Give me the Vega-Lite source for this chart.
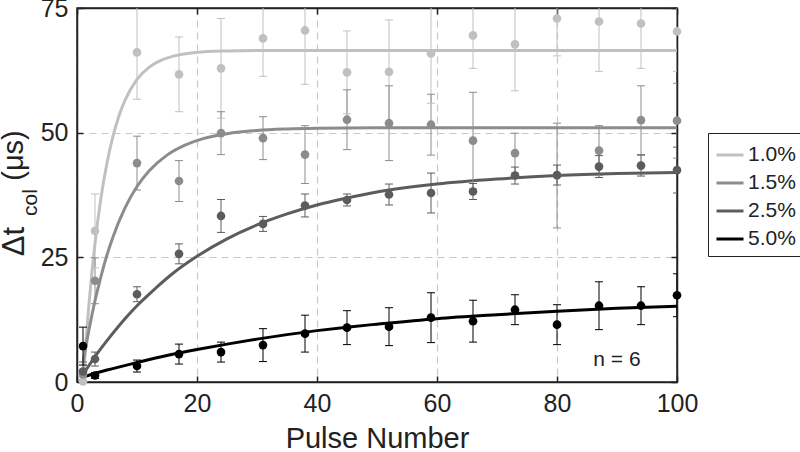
{
  "$schema": "https://vega.github.io/schema/vega-lite/v6.json",
  "width": 600,
  "height": 374,
  "autosize": {"type": "none"},
  "padding": {"left": 77, "top": 8, "right": 123, "bottom": 70},
  "background": "white",
  "config": {
    "view": {"stroke": "#222222", "strokeWidth": 1.5},
    "font": "Liberation Sans",
    "axis": {
      "domainColor": "#222222",
      "domainWidth": 1.5,
      "tickColor": "#222222",
      "tickWidth": 1.5,
      "tickSize": -6,
      "labelFont": "Liberation Sans",
      "labelFontSize": 25,
      "labelColor": "#222222",
      "labelFlush": false,
      "titleFont": "Liberation Sans",
      "titleFontWeight": "normal",
      "titleColor": "#222222",
      "gridColor": "#c8c8c8",
      "gridDash": [7, 5],
      "gridWidth": 1.2
    }
  },
  "datasets": {
    "pts": [
      {"s": "1.0%", "x": 1, "y": 0.1, "lo": 0, "hi": 1.0},
      {"s": "1.0%", "x": 3, "y": 30.3, "lo": 22.9, "hi": 37.7},
      {"s": "1.0%", "x": 10, "y": 66.1, "lo": 56.7, "hi": 75.5},
      {"s": "1.0%", "x": 17, "y": 61.7, "lo": 54.2, "hi": 69.2},
      {"s": "1.0%", "x": 24, "y": 62.9, "lo": 52.9, "hi": 72.9},
      {"s": "1.0%", "x": 31, "y": 68.9, "lo": 61.3, "hi": 76.5},
      {"s": "1.0%", "x": 38, "y": 70.5, "lo": 59.7, "hi": 81.3},
      {"s": "1.0%", "x": 45, "y": 62.1, "lo": 53.8, "hi": 70.4},
      {"s": "1.0%", "x": 52, "y": 62.2, "lo": 51.8, "hi": 72.6},
      {"s": "1.0%", "x": 59, "y": 65.9, "lo": 55.9, "hi": 75.9},
      {"s": "1.0%", "x": 66, "y": 69.5, "lo": 62.9, "hi": 76.1},
      {"s": "1.0%", "x": 73, "y": 67.7, "lo": 58.4, "hi": 77.0},
      {"s": "1.0%", "x": 80, "y": 72.9, "lo": 65.4, "hi": 80.4},
      {"s": "1.0%", "x": 87, "y": 72.3, "lo": 62.3, "hi": 82.3},
      {"s": "1.0%", "x": 94, "y": 71.9, "lo": 62.9, "hi": 80.9},
      {"s": "1.0%", "x": 100, "y": 70.3, "lo": 62.3, "hi": 78.3},
      {"s": "1.5%", "x": 1, "y": 1.5, "lo": 0.5, "hi": 2.5},
      {"s": "1.5%", "x": 3, "y": 20.3, "lo": 15.7, "hi": 24.9},
      {"s": "1.5%", "x": 10, "y": 43.9, "lo": 38.5, "hi": 49.3},
      {"s": "1.5%", "x": 17, "y": 40.3, "lo": 36.2, "hi": 44.4},
      {"s": "1.5%", "x": 24, "y": 49.9, "lo": 45.6, "hi": 54.2},
      {"s": "1.5%", "x": 31, "y": 48.9, "lo": 44.6, "hi": 53.2},
      {"s": "1.5%", "x": 38, "y": 45.6, "lo": 39.8, "hi": 51.4},
      {"s": "1.5%", "x": 45, "y": 52.6, "lo": 46.6, "hi": 58.6},
      {"s": "1.5%", "x": 52, "y": 51.9, "lo": 44.4, "hi": 59.4},
      {"s": "1.5%", "x": 59, "y": 51.6, "lo": 45.5, "hi": 57.7},
      {"s": "1.5%", "x": 66, "y": 48.4, "lo": 38.7, "hi": 58.1},
      {"s": "1.5%", "x": 73, "y": 45.9, "lo": 41.9, "hi": 49.9},
      {"s": "1.5%", "x": 80, "y": 41.4, "lo": 30.9, "hi": 51.9},
      {"s": "1.5%", "x": 87, "y": 46.4, "lo": 41.4, "hi": 51.4},
      {"s": "1.5%", "x": 94, "y": 52.5, "lo": 45.6, "hi": 59.4},
      {"s": "1.5%", "x": 100, "y": 52.4, "lo": 44.9, "hi": 59.9},
      {"s": "2.5%", "x": 1, "y": 2.1, "lo": 0.2, "hi": 4.0},
      {"s": "2.5%", "x": 3, "y": 4.6, "lo": 3.2, "hi": 6.0},
      {"s": "2.5%", "x": 10, "y": 17.6, "lo": 16.1, "hi": 19.1},
      {"s": "2.5%", "x": 17, "y": 25.7, "lo": 23.7, "hi": 27.7},
      {"s": "2.5%", "x": 24, "y": 33.3, "lo": 30.0, "hi": 36.6},
      {"s": "2.5%", "x": 31, "y": 31.7, "lo": 30.2, "hi": 33.2},
      {"s": "2.5%", "x": 38, "y": 35.4, "lo": 33.1, "hi": 37.7},
      {"s": "2.5%", "x": 45, "y": 36.5, "lo": 35.3, "hi": 37.7},
      {"s": "2.5%", "x": 52, "y": 37.6, "lo": 35.5, "hi": 39.7},
      {"s": "2.5%", "x": 59, "y": 37.9, "lo": 33.9, "hi": 41.9},
      {"s": "2.5%", "x": 66, "y": 38.2, "lo": 36.6, "hi": 39.8},
      {"s": "2.5%", "x": 73, "y": 41.4, "lo": 39.7, "hi": 43.1},
      {"s": "2.5%", "x": 80, "y": 41.5, "lo": 39.5, "hi": 43.5},
      {"s": "2.5%", "x": 87, "y": 43.2, "lo": 41.0, "hi": 45.4},
      {"s": "2.5%", "x": 94, "y": 43.4, "lo": 41.3, "hi": 45.5},
      {"s": "2.5%", "x": 100, "y": 42.5, "lo": 37.9, "hi": 47.1},
      {"s": "5.0%", "x": 1, "y": 7.2, "lo": 3.4, "hi": 11.0},
      {"s": "5.0%", "x": 3, "y": 1.3, "lo": 0.7, "hi": 1.9},
      {"s": "5.0%", "x": 10, "y": 3.2, "lo": 2.0, "hi": 4.4},
      {"s": "5.0%", "x": 17, "y": 5.6, "lo": 3.6, "hi": 7.6},
      {"s": "5.0%", "x": 24, "y": 6.0, "lo": 4.0, "hi": 8.0},
      {"s": "5.0%", "x": 31, "y": 7.4, "lo": 4.1, "hi": 10.7},
      {"s": "5.0%", "x": 38, "y": 9.7, "lo": 6.0, "hi": 13.4},
      {"s": "5.0%", "x": 45, "y": 10.9, "lo": 7.5, "hi": 14.3},
      {"s": "5.0%", "x": 52, "y": 11.1, "lo": 7.3, "hi": 14.9},
      {"s": "5.0%", "x": 59, "y": 12.9, "lo": 7.9, "hi": 17.9},
      {"s": "5.0%", "x": 66, "y": 12.2, "lo": 8.0, "hi": 16.4},
      {"s": "5.0%", "x": 73, "y": 14.5, "lo": 11.5, "hi": 17.5},
      {"s": "5.0%", "x": 80, "y": 11.5, "lo": 7.5, "hi": 15.5},
      {"s": "5.0%", "x": 87, "y": 15.3, "lo": 10.5, "hi": 20.1},
      {"s": "5.0%", "x": 94, "y": 15.3, "lo": 11.5, "hi": 19.1},
      {"s": "5.0%", "x": 100, "y": 17.4, "lo": 13.1, "hi": 21.7}
    ],
    "fit": [
      {"s": "1.0%", "x": 1, "y": 0},
      {"s": "1.0%", "x": 1.5, "y": 8.4},
      {"s": "1.0%", "x": 2, "y": 15.7},
      {"s": "1.0%", "x": 2.5, "y": 22.1},
      {"s": "1.0%", "x": 3, "y": 27.8},
      {"s": "1.0%", "x": 4, "y": 37.0},
      {"s": "1.0%", "x": 5, "y": 43.9},
      {"s": "1.0%", "x": 6, "y": 49.3},
      {"s": "1.0%", "x": 7, "y": 53.4},
      {"s": "1.0%", "x": 8, "y": 56.5},
      {"s": "1.0%", "x": 10, "y": 60.7},
      {"s": "1.0%", "x": 12, "y": 63.1},
      {"s": "1.0%", "x": 14, "y": 64.5},
      {"s": "1.0%", "x": 17, "y": 65.6},
      {"s": "1.0%", "x": 20, "y": 66.1},
      {"s": "1.0%", "x": 25, "y": 66.4},
      {"s": "1.0%", "x": 30, "y": 66.5},
      {"s": "1.0%", "x": 100, "y": 66.5},
      {"s": "1.5%", "x": 1, "y": 3.8},
      {"s": "1.5%", "x": 2, "y": 10.5},
      {"s": "1.5%", "x": 3, "y": 16.3},
      {"s": "1.5%", "x": 4, "y": 21.2},
      {"s": "1.5%", "x": 5, "y": 25.5},
      {"s": "1.5%", "x": 6, "y": 29.1},
      {"s": "1.5%", "x": 8, "y": 34.9},
      {"s": "1.5%", "x": 10, "y": 39.2},
      {"s": "1.5%", "x": 12, "y": 42.3},
      {"s": "1.5%", "x": 15, "y": 45.5},
      {"s": "1.5%", "x": 18, "y": 47.5},
      {"s": "1.5%", "x": 21, "y": 48.8},
      {"s": "1.5%", "x": 25, "y": 49.8},
      {"s": "1.5%", "x": 30, "y": 50.45},
      {"s": "1.5%", "x": 35, "y": 50.75},
      {"s": "1.5%", "x": 40, "y": 50.9},
      {"s": "1.5%", "x": 50, "y": 51.0},
      {"s": "1.5%", "x": 100, "y": 51.0},
      {"s": "2.5%", "x": 1, "y": 1.5},
      {"s": "2.5%", "x": 3, "y": 5.1},
      {"s": "2.5%", "x": 5, "y": 8.3},
      {"s": "2.5%", "x": 8, "y": 12.7},
      {"s": "2.5%", "x": 10, "y": 15.3},
      {"s": "2.5%", "x": 13, "y": 18.7},
      {"s": "2.5%", "x": 16, "y": 21.8},
      {"s": "2.5%", "x": 20, "y": 25.2},
      {"s": "2.5%", "x": 25, "y": 28.7},
      {"s": "2.5%", "x": 30, "y": 31.5},
      {"s": "2.5%", "x": 35, "y": 33.7},
      {"s": "2.5%", "x": 40, "y": 35.5},
      {"s": "2.5%", "x": 45, "y": 36.9},
      {"s": "2.5%", "x": 50, "y": 38.1},
      {"s": "2.5%", "x": 60, "y": 39.7},
      {"s": "2.5%", "x": 70, "y": 40.7},
      {"s": "2.5%", "x": 80, "y": 41.4},
      {"s": "2.5%", "x": 90, "y": 41.8},
      {"s": "2.5%", "x": 100, "y": 42.0},
      {"s": "5.0%", "x": 1, "y": 1.0},
      {"s": "5.0%", "x": 5, "y": 2.4},
      {"s": "5.0%", "x": 10, "y": 3.9},
      {"s": "5.0%", "x": 15, "y": 5.3},
      {"s": "5.0%", "x": 20, "y": 6.5},
      {"s": "5.0%", "x": 25, "y": 7.6},
      {"s": "5.0%", "x": 30, "y": 8.6},
      {"s": "5.0%", "x": 35, "y": 9.5},
      {"s": "5.0%", "x": 40, "y": 10.3},
      {"s": "5.0%", "x": 45, "y": 11.0},
      {"s": "5.0%", "x": 50, "y": 11.6},
      {"s": "5.0%", "x": 60, "y": 12.7},
      {"s": "5.0%", "x": 70, "y": 13.5},
      {"s": "5.0%", "x": 80, "y": 14.2},
      {"s": "5.0%", "x": 90, "y": 14.8},
      {"s": "5.0%", "x": 100, "y": 15.2}
    ],
    "note": [
      {"x": 90, "y": 4.4, "t": "n = 6"}
    ]
  },
  "resolve": {"axis": {"x": "independent", "y": "independent"}},
  "layer": [
    {
      "data": {"name": "fit"},
      "mark": {"type": "line", "strokeWidth": 3, "interpolate": "monotone"},
      "encoding": {
        "x": {
          "field": "x", "type": "quantitative",
          "scale": {"domain": [0, 100], "nice": false, "zero": false},
          "axis": {
            "orient": "bottom", "values": [0, 20, 40, 60, 80, 100], "grid": true,
            "labelPadding": 15, "title": "Pulse Number", "titleFontSize": 29,
            "titleBaseline": "middle", "titleY": 56
          }
        },
        "y": {
          "field": "y", "type": "quantitative",
          "scale": {"domain": [0, 75], "nice": false, "zero": false},
          "axis": {
            "orient": "left", "values": [0, 25, 50, 75], "grid": true,
            "labelPadding": 15, "title": "Δt", "titleFontSize": 31,
            "titleAngle": -90, "titleBaseline": "middle", "titleAlign": "center",
            "titleX": -63, "titleY": 233
          }
        },
        "color": {
          "field": "s", "type": "nominal",
          "scale": {"domain": ["1.0%", "1.5%", "2.5%", "5.0%"], "range": ["#c0c0c0", "#8c8c8c", "#5c5c5c", "#000000"]},
          "legend": {
            "title": null, "orient": "none", "legendX": 631, "legendY": 125,
            "symbolType": "stroke", "symbolSize": 729, "symbolStrokeWidth": 3,
            "labelFontSize": 21, "labelFont": "Liberation Sans", "labelColor": "#222222",
            "strokeColor": "#222222", "fillColor": "white", "padding": 7,
            "rowPadding": 3, "labelOffset": 3, "cornerRadius": 0
          }
        }
      }
    },
    {
      "data": {"name": "pts"},
      "mark": {"type": "rule", "strokeWidth": 1, "clip": true},
      "encoding": {
        "x": {"field": "x", "type": "quantitative", "scale": {"domain": [0, 100], "nice": false, "zero": false}, "axis": null},
        "y": {"field": "lo", "type": "quantitative", "scale": {"domain": [0, 75], "nice": false, "zero": false}, "axis": null},
        "y2": {"field": "hi"},
        "color": {"field": "s", "type": "nominal"}
      }
    },
    {
      "data": {"name": "pts"},
      "mark": {"type": "tick", "orient": "horizontal", "size": 8, "thickness": 1, "clip": true, "opacity": 1},
      "encoding": {
        "x": {
          "field": "x", "type": "quantitative",
          "scale": {"domain": [0, 100], "nice": false, "zero": false},
          "axis": {"orient": "top", "values": [0, 20, 40, 60, 80, 100], "labels": false, "title": null, "grid": false}
        },
        "y": {
          "field": "lo", "type": "quantitative",
          "scale": {"domain": [0, 75], "nice": false, "zero": false},
          "axis": {"orient": "right", "values": [0, 25, 50, 75], "labels": false, "title": null, "grid": false}
        },
        "color": {"field": "s", "type": "nominal"}
      }
    },
    {
      "data": {"name": "pts"},
      "mark": {"type": "tick", "orient": "horizontal", "size": 8, "thickness": 1, "clip": true, "opacity": 1},
      "encoding": {
        "x": {"field": "x", "type": "quantitative", "scale": {"domain": [0, 100], "nice": false, "zero": false}, "axis": null},
        "y": {"field": "hi", "type": "quantitative", "scale": {"domain": [0, 75], "nice": false, "zero": false}, "axis": null},
        "color": {"field": "s", "type": "nominal"}
      }
    },
    {
      "data": {"name": "pts"},
      "mark": {"type": "point", "shape": "circle", "filled": true, "size": 75, "opacity": 1},
      "encoding": {
        "x": {"field": "x", "type": "quantitative", "scale": {"domain": [0, 100], "nice": false, "zero": false}, "axis": null},
        "y": {
          "field": "y", "type": "quantitative",
          "scale": {"domain": [0, 75], "nice": false, "zero": false},
          "axis": {
            "orient": "left", "labels": false, "ticks": false, "domain": false, "grid": false,
            "title": "col", "titleFontSize": 21, "titleAngle": -90, "titleBaseline": "middle",
            "titleAlign": "center", "titleX": -47, "titleY": 194
          }
        },
        "color": {"field": "s", "type": "nominal"}
      }
    },
    {
      "data": {"name": "note"},
      "mark": {"type": "text", "fontSize": 21, "font": "Liberation Sans", "color": "#222222", "align": "center", "baseline": "middle"},
      "encoding": {
        "x": {"field": "x", "type": "quantitative", "scale": {"domain": [0, 100], "nice": false, "zero": false}, "axis": null},
        "y": {
          "field": "y", "type": "quantitative",
          "scale": {"domain": [0, 75], "nice": false, "zero": false},
          "axis": {
            "orient": "left", "labels": false, "ticks": false, "domain": false, "grid": false,
            "title": "(μs)", "titleFontSize": 29, "titleAngle": -90, "titleBaseline": "middle",
            "titleAlign": "center", "titleX": -64, "titleY": 147
          }
        },
        "text": {"field": "t"}
      }
    }
  ]
}
